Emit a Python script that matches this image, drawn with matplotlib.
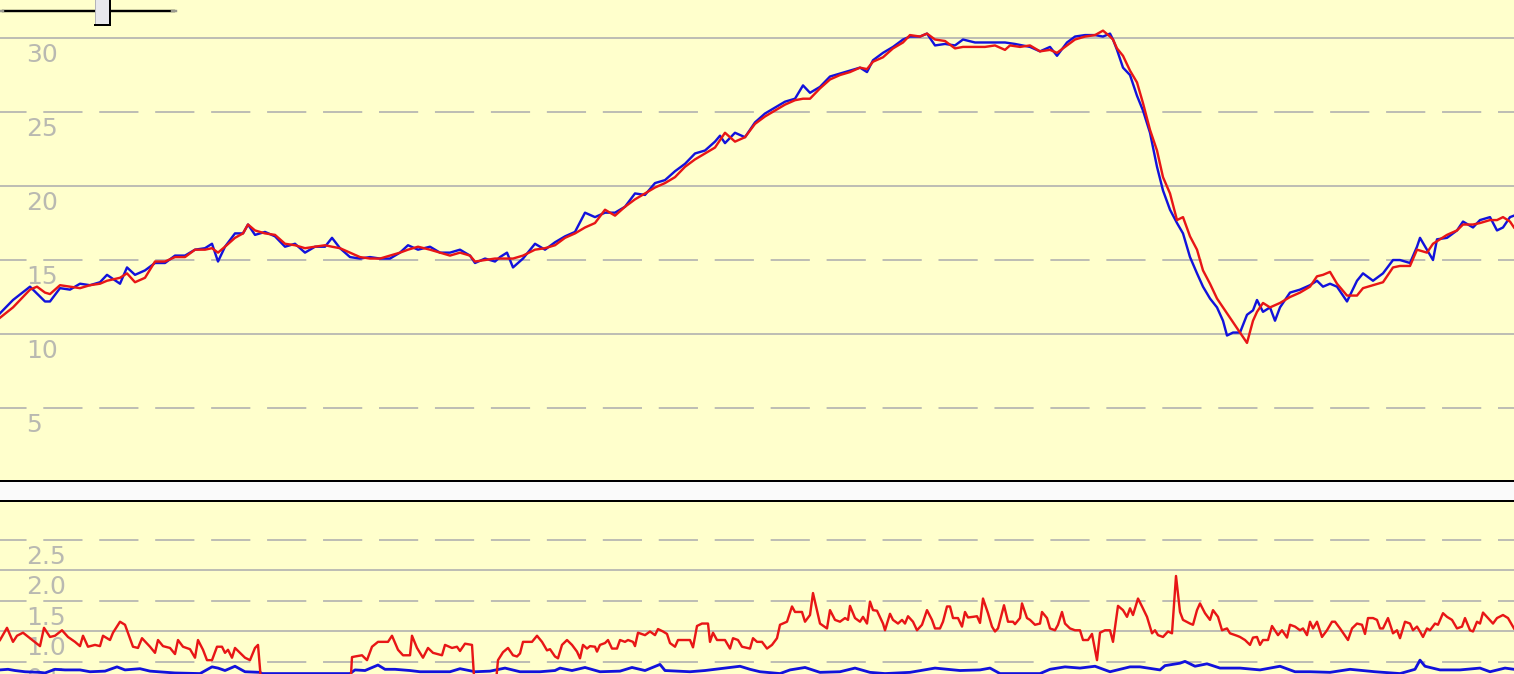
"""
Two stacked strip charts on a pale yellow ground: a level trace (blue raw,
red smoothed) on top and a small rate trace below, with a slider widget in
the top-left corner.
"""

import matplotlib
matplotlib.use("Agg")
import matplotlib.pyplot as plt
from matplotlib.lines import Line2D
from matplotlib.patches import Rectangle

# ---- data (t = sample position along the strip) ----
BLUE_T = [
    0, 13, 30, 45, 50, 60, 70, 80, 90, 100,
    107, 120, 127, 135, 145, 155, 165, 175, 185, 195,
    205, 212, 218, 225, 235, 243, 248, 255, 265, 275,
    285, 295, 305, 315, 325, 332, 340, 350, 360, 370,
    380, 390, 400, 408, 418, 430, 440, 450, 460, 470,
    475, 485, 495, 500, 507, 513, 523, 535, 545, 555,
    565, 575, 585, 595, 605, 615, 625, 635, 645, 655,
    665, 675, 685, 695, 705, 715, 720, 725, 735, 745,
    755, 765, 775, 785, 795, 803, 810, 820, 830, 840,
    850, 860, 867, 873, 883, 893, 903, 910, 920, 927,
    935, 945, 955, 963, 975, 985, 995, 1005, 1015, 1030,
    1040, 1050, 1057, 1067, 1075, 1085, 1095, 1103, 1110, 1113,
    1117, 1123, 1130, 1137, 1143, 1150, 1157, 1163, 1170, 1177,
    1183, 1190, 1197, 1203, 1210, 1217, 1223, 1227, 1233, 1240,
    1247, 1253, 1257, 1263, 1270, 1275, 1280, 1290, 1300, 1310,
    1317, 1323, 1330, 1337, 1347, 1357, 1363, 1373, 1383, 1393,
    1400, 1410, 1417, 1420, 1427, 1433, 1437, 1447, 1457, 1463,
    1473, 1480, 1490, 1497, 1503, 1510, 1514]
BLUE = [
    11.4, 12.3, 13.2, 12.2, 12.2, 13.1, 13.0, 13.4, 13.3, 13.5,
    14.0, 13.4, 14.5, 14.0, 14.3, 14.8, 14.8, 15.3, 15.3, 15.7,
    15.8, 16.1, 14.9, 15.9, 16.8, 16.8, 17.4, 16.7, 16.9, 16.6,
    15.9, 16.1, 15.5, 15.9, 15.9, 16.5, 15.8, 15.2, 15.1, 15.2,
    15.1, 15.1, 15.5, 16.0, 15.7, 15.9, 15.5, 15.5, 15.7, 15.3,
    14.8, 15.1, 14.9, 15.2, 15.5, 14.5, 15.1, 16.1, 15.7, 16.2,
    16.6, 16.9, 18.2, 17.9, 18.2, 18.2, 18.6, 19.5, 19.4, 20.2,
    20.4, 21.0, 21.5, 22.2, 22.4, 23.0, 23.4, 22.9, 23.6, 23.3,
    24.3, 24.9, 25.3, 25.7, 25.9, 26.8, 26.3, 26.7, 27.4, 27.6,
    27.8, 28.0, 27.7, 28.5, 29.0, 29.4, 29.9, 30.1, 30.1, 30.3,
    29.5, 29.6, 29.5, 29.9, 29.7, 29.7, 29.7, 29.7, 29.6, 29.4,
    29.1, 29.4, 28.8, 29.7, 30.1, 30.2, 30.2, 30.1, 30.3, 29.9,
    29.2, 28.0, 27.5, 26.1, 25.1, 23.6, 21.3, 19.7, 18.4, 17.5,
    16.8, 15.2, 14.1, 13.2, 12.4, 11.8, 10.9, 9.9, 10.1, 10.1,
    11.3, 11.6, 12.3, 11.5, 11.8, 10.9, 11.8, 12.8, 13.0, 13.3,
    13.6, 13.2, 13.4, 13.2, 12.2, 13.6, 14.1, 13.6, 14.1, 15.0,
    15.0, 14.8, 15.9, 16.5, 15.7, 15.0, 16.4, 16.5, 17.0, 17.6,
    17.2, 17.7, 17.9, 17.0, 17.2, 17.9, 18.0]

RED_T = [
    0, 13, 30, 37, 45, 50, 60, 70, 80, 90,
    100, 107, 120, 127, 135, 145, 155, 165, 175, 185,
    195, 205, 212, 218, 225, 235, 243, 248, 255, 265,
    275, 285, 295, 305, 315, 325, 332, 340, 350, 360,
    370, 380, 390, 400, 408, 418, 430, 440, 450, 460,
    470, 475, 485, 495, 505, 513, 523, 535, 545, 555,
    565, 575, 585, 595, 605, 615, 625, 635, 645, 655,
    665, 675, 685, 695, 705, 715, 720, 725, 735, 745,
    755, 765, 775, 785, 795, 803, 810, 820, 830, 840,
    850, 860, 867, 873, 883, 893, 903, 910, 920, 927,
    935, 945, 955, 963, 975, 985, 995, 1005, 1010, 1020,
    1030, 1040, 1050, 1057, 1067, 1075, 1085, 1095, 1103, 1110,
    1113, 1117, 1123, 1130, 1137, 1143, 1150, 1157, 1163, 1170,
    1177, 1183, 1190, 1197, 1203, 1210, 1217, 1223, 1227, 1233,
    1240, 1247, 1253, 1257, 1263, 1270, 1280, 1290, 1300, 1310,
    1317, 1323, 1330, 1337, 1347, 1357, 1363, 1373, 1383, 1393,
    1400, 1410, 1417, 1427, 1433, 1447, 1457, 1463, 1473, 1480,
    1490, 1497, 1503, 1510, 1514]
RED = [
    11.1, 11.8, 13.0, 13.2, 12.8, 12.7, 13.3, 13.2, 13.1, 13.3,
    13.4, 13.6, 13.8, 14.1, 13.5, 13.8, 14.9, 14.9, 15.2, 15.2,
    15.7, 15.7, 15.8, 15.5, 15.9, 16.5, 16.8, 17.4, 17.0, 16.8,
    16.7, 16.1, 16.0, 15.8, 15.9, 16.0, 15.9, 15.8, 15.5, 15.2,
    15.1, 15.1, 15.3, 15.5, 15.7, 15.9, 15.7, 15.5, 15.3, 15.5,
    15.3, 14.9, 15.0, 15.1, 15.1, 15.1, 15.3, 15.7, 15.8, 16.0,
    16.5, 16.8, 17.2, 17.5, 18.4, 18.0, 18.6, 19.1, 19.5, 19.9,
    20.2, 20.6, 21.3, 21.8, 22.2, 22.6, 23.1, 23.6, 23.0, 23.3,
    24.2, 24.7, 25.1, 25.5, 25.8, 25.9, 25.9, 26.6, 27.2, 27.5,
    27.7, 28.0, 27.9, 28.4, 28.7, 29.3, 29.7, 30.2, 30.1, 30.3,
    29.9, 29.8, 29.3, 29.4, 29.4, 29.4, 29.5, 29.2, 29.5, 29.4,
    29.5, 29.1, 29.2, 29.0, 29.5, 29.9, 30.1, 30.2, 30.5, 30.1,
    29.9, 29.3, 28.8, 27.8, 27.0, 25.6, 23.8, 22.4, 20.6, 19.5,
    17.7, 17.9, 16.6, 15.7, 14.3, 13.4, 12.4, 11.8, 11.4, 10.8,
    10.1, 9.4, 10.9, 11.5, 12.1, 11.8, 12.1, 12.5, 12.8, 13.2,
    13.9, 14.0, 14.2, 13.4, 12.6, 12.6, 13.1, 13.3, 13.5, 14.5,
    14.6, 14.6, 15.7, 15.5, 16.1, 16.7, 17.0, 17.4, 17.4, 17.5,
    17.7, 17.7, 17.9, 17.6, 17.2]

RED_B_T = [
    0, 7, 13, 17, 23, 30, 40, 44, 50, 55,
    62, 68, 75, 80, 83, 88, 95, 100, 103, 110,
    113, 120, 125, 133, 138, 142, 150, 155, 158, 163,
    170, 175, 178, 183, 190, 195, 198, 203, 207, 212,
    217, 222, 225, 228, 232, 235, 240, 245, 250, 255,
    258, 262, 350, 352, 355, 362, 367, 372, 378, 388,
    392, 398, 403, 410, 412, 417, 423, 428, 433, 442,
    445, 452, 457, 460, 465, 472, 475, 495, 498, 503,
    508, 513, 517, 520, 523, 532, 537, 542, 547, 550,
    555, 558, 562, 567, 572, 577, 580, 583, 587, 590,
    595, 597, 600, 605, 608, 612, 617, 620, 625, 628,
    633, 635, 638, 645, 650, 655, 658, 663, 667, 670,
    675, 678, 690, 693, 697, 702, 708, 710, 713, 717,
    725, 730, 733, 738, 742, 750, 753, 757, 762, 767,
    772, 777, 780, 787, 792, 795, 802, 805, 810, 813,
    820, 827, 830, 835, 840, 845, 848, 850, 855, 860,
    863, 867, 870, 873, 877, 883, 885, 890, 893, 898,
    902, 905, 908, 913, 917, 922, 927, 932, 935, 940,
    943, 947, 950, 953, 958, 962, 965, 968, 973, 977,
    980, 983, 988, 992, 995, 998, 1004, 1008, 1013, 1015,
    1020, 1022, 1027, 1030, 1035, 1040, 1042, 1047, 1050, 1055,
    1058, 1062, 1065, 1070, 1075, 1080, 1083, 1088, 1092, 1097,
    1100, 1105, 1110, 1113, 1118, 1123, 1127, 1130, 1133, 1138,
    1142, 1147, 1152, 1155, 1158, 1163, 1168, 1172, 1176, 1180,
    1183, 1190, 1193, 1197, 1200, 1205, 1210, 1213, 1218, 1222,
    1227, 1230, 1237, 1240, 1245, 1250, 1253, 1257, 1260, 1263,
    1268, 1272, 1278, 1282, 1287, 1290, 1295, 1300, 1303, 1307,
    1310, 1313, 1317, 1322, 1327, 1332, 1335, 1340, 1345, 1348,
    1352, 1357, 1362, 1365, 1368, 1373, 1377, 1380, 1383, 1388,
    1393, 1397, 1400, 1405, 1410, 1413, 1417, 1420, 1423, 1427,
    1430, 1435, 1438, 1443, 1447, 1452, 1457, 1462, 1465, 1470,
    1473, 1477, 1480, 1483, 1488, 1493, 1497, 1503, 1508, 1514]
RED_B = [
    0.86, 1.06, 0.83, 0.93, 0.98, 0.89, 0.76, 1.06, 0.91, 0.93,
    1.02, 0.91, 0.83, 0.76, 0.93, 0.75, 0.78, 0.76, 0.93, 0.86,
    0.98, 1.16, 1.11, 0.75, 0.73, 0.89, 0.75, 0.65, 0.86, 0.76,
    0.73, 0.63, 0.86, 0.75, 0.71, 0.57, 0.86, 0.70, 0.53, 0.53,
    0.75, 0.75, 0.65, 0.70, 0.57, 0.73, 0.65, 0.57, 0.53, 0.73,
    0.78, 0.0, 0.0, 0.58, 0.59, 0.61, 0.53, 0.75, 0.83, 0.83,
    0.93, 0.70, 0.61, 0.61, 0.93, 0.73, 0.57, 0.73, 0.65, 0.61,
    0.78, 0.73, 0.75, 0.68, 0.80, 0.78, 0.0, 0.0, 0.53, 0.66,
    0.73, 0.61, 0.59, 0.64, 0.83, 0.83, 0.93, 0.83, 0.69, 0.71,
    0.59, 0.56, 0.78, 0.86, 0.78, 0.67, 0.56, 0.78, 0.72, 0.76,
    0.75, 0.67, 0.78, 0.81, 0.86, 0.72, 0.72, 0.86, 0.83, 0.86,
    0.83, 0.76, 0.98, 0.94, 1.00, 0.94, 1.04, 1.00, 0.96, 0.81,
    0.75, 0.86, 0.86, 0.74, 1.09, 1.13, 1.13, 0.83, 0.98, 0.86,
    0.86, 0.72, 0.89, 0.86, 0.75, 0.72, 0.89, 0.83, 0.83, 0.72,
    0.78, 0.89, 1.11, 1.16, 1.41, 1.32, 1.32, 1.16, 1.27, 1.63,
    1.13, 1.05, 1.35, 1.19, 1.16, 1.22, 1.19, 1.42, 1.22, 1.16,
    1.24, 1.13, 1.49, 1.35, 1.34, 1.13, 1.02, 1.29, 1.19, 1.13,
    1.19, 1.13, 1.25, 1.16, 1.02, 1.11, 1.35, 1.19, 1.05, 1.05,
    1.16, 1.41, 1.41, 1.22, 1.22, 1.08, 1.32, 1.23, 1.24, 1.25,
    1.14, 1.54, 1.30, 1.08, 1.00, 1.05, 1.43, 1.16, 1.16, 1.12,
    1.22, 1.46, 1.22, 1.19, 1.11, 1.13, 1.32, 1.22, 1.05, 1.02,
    1.11, 1.32, 1.13, 1.05, 1.02, 1.02, 0.86, 0.86, 0.96, 0.53,
    0.98, 1.02, 1.02, 0.83, 1.42, 1.35, 1.24, 1.38, 1.27, 1.54,
    1.41, 1.24, 0.97, 1.02, 0.94, 0.91, 1.00, 0.97, 1.91, 1.32,
    1.19, 1.13, 1.11, 1.35, 1.46, 1.30, 1.19, 1.35, 1.24, 1.02,
    1.05, 0.97, 0.93, 0.91, 0.86, 0.78, 0.90, 0.91, 0.78, 0.86,
    0.86, 1.09, 0.94, 1.02, 0.90, 1.11, 1.08, 1.02, 1.05, 0.94,
    1.16, 1.05, 1.16, 0.91, 1.02, 1.16, 1.16, 1.05, 0.93, 0.86,
    1.05, 1.13, 1.11, 0.96, 1.22, 1.22, 1.19, 1.05, 1.05, 1.22,
    0.97, 1.02, 0.89, 1.16, 1.13, 1.02, 1.08, 1.00, 0.91, 1.05,
    1.02, 1.13, 1.11, 1.30, 1.24, 1.19, 1.05, 1.08, 1.22, 1.02,
    1.00, 1.16, 1.13, 1.31, 1.22, 1.13, 1.22, 1.27, 1.22, 1.05]

BLUE_B_T = [
    0, 8, 15, 25, 40, 45, 55, 65, 80, 90,
    105, 117, 125, 140, 150, 175, 200, 212, 218, 225,
    235, 245, 260, 262, 350, 355, 365, 378, 385, 395,
    410, 420, 450, 460, 475, 490, 505, 520, 540, 555,
    560, 572, 585, 600, 620, 632, 645, 660, 665, 690,
    705, 725, 730, 740, 750, 760, 780, 790, 805, 820,
    840, 855, 870, 885, 910, 935, 960, 980, 990, 1000,
    1040, 1050, 1065, 1080, 1095, 1110, 1130, 1140, 1160, 1165,
    1180, 1185, 1195, 1207, 1220, 1240, 1260, 1280, 1295, 1310,
    1330, 1350, 1375, 1400, 1415, 1420, 1425, 1440, 1460, 1480,
    1490, 1505, 1514]
BLUE_B = [
    0.37, 0.38, 0.36, 0.34, 0.33, 0.32, 0.38, 0.37, 0.37, 0.34,
    0.35, 0.42, 0.37, 0.39, 0.35, 0.32, 0.31, 0.42, 0.40, 0.36,
    0.43, 0.34, 0.33, 0.31, 0.31, 0.37, 0.36, 0.45, 0.38, 0.38,
    0.36, 0.34, 0.34, 0.39, 0.34, 0.35, 0.40, 0.34, 0.34, 0.36,
    0.40, 0.36, 0.41, 0.34, 0.35, 0.41, 0.36, 0.46, 0.36, 0.34,
    0.36, 0.40, 0.41, 0.43, 0.38, 0.34, 0.31, 0.37, 0.41, 0.33,
    0.34, 0.40, 0.33, 0.31, 0.33, 0.40, 0.36, 0.37, 0.40, 0.31,
    0.31, 0.38, 0.42, 0.40, 0.43, 0.34, 0.42, 0.42, 0.37, 0.44,
    0.48, 0.51, 0.43, 0.47, 0.40, 0.40, 0.37, 0.43, 0.34, 0.34,
    0.33, 0.38, 0.34, 0.31, 0.38, 0.53, 0.43, 0.37, 0.37, 0.40,
    0.34, 0.40, 0.38]

TOP_SOLID = [10, 20, 30]
TOP_DASHED = [5, 15, 25]
TOP_LABELS = [5, 10, 15, 20, 25, 30]
BOT_SOLID = [1.0, 2.0]
BOT_DASHED = [0.5, 1.5, 2.5]
BOT_LABELS = [0.5, 1.0, 1.5, 2.0, 2.5]

# ---- look ----
W, H = 1514, 674
BG = "#FFFFCC"
GAP = "#FAFAFA"
GRID = "#BEBEB4"
LABEL = "#B9B9B1"
C_BLUE = "#1212DC"
C_RED = "#E81616"
PT = 0.72                          # points per pixel at dpi 100
DASH = (12.65 * PT, (39.2 * PT, 16.75 * PT))
LW_DATA = 2.4 * PT


def style_panel(ax, ylim, solid, dashed, labels, fmt, spine):
    ax.set_facecolor(BG)
    ax.set_xlim(0, W)
    ax.set_ylim(*ylim)
    ax.set_xticks([])
    ax.set_yticks([])
    for name, sp in ax.spines.items():
        sp.set_visible(name == spine)
    ax.spines[spine].set_color("black")
    ax.spines[spine].set_linewidth(2 * PT)
    for v in solid:
        ax.axhline(v, color=GRID, lw=2 * PT, zorder=1)
    for v in dashed:
        ax.axhline(v, color=GRID, lw=2 * PT, ls=DASH, zorder=1)
    # value labels sit just under their grid line, as in the reference;
    # the lowest one is partly cut by the figure edge there too
    for v in labels:
        ax.annotate(fmt.format(v), xy=(26, v), xytext=(0, -24 * PT),
                    textcoords="offset points", ha="left", va="baseline",
                    fontsize=18, color=LABEL, zorder=2,
                    annotation_clip=False)


def main():
    plt.rcParams["lines.scale_dashes"] = False
    plt.rcParams["font.family"] = ["DejaVu Sans"]

    fig = plt.figure(figsize=(W / 100, H / 100), dpi=100)
    fig.patch.set_facecolor(GAP)

    top = fig.add_axes([0, 1 - 481 / H, 1, 481 / H])
    bot = fig.add_axes([0, 0, 1, (H - 501) / H])

    style_panel(top, (0.07, 32.57), TOP_SOLID, TOP_DASHED, TOP_LABELS,
                "{:d}", "bottom")
    style_panel(bot, (0.303, 3.139), BOT_SOLID, BOT_DASHED, BOT_LABELS,
                "{:.1f}", "top")

    top.plot(BLUE_T, BLUE, color=C_BLUE, lw=LW_DATA, zorder=3)
    top.plot(RED_T, RED, color=C_RED, lw=LW_DATA, zorder=4)
    bot.plot(BLUE_B_T, BLUE_B, color=C_BLUE, lw=2.8 * PT, zorder=3)
    bot.plot(RED_B_T, RED_B, color=C_RED, lw=LW_DATA, zorder=4)

    # slider widget in the corner
    def fx(px):
        return px / W

    def fy(py):
        return 1 - py / H

    fig.add_artist(Line2D([fx(3), fx(174)], [fy(11), fy(11)],
                          color="black", lw=2.4 * PT, zorder=10))
    for x0, x1 in [(0, 3), (172, 176)]:
        fig.add_artist(Line2D([fx(x0), fx(x1)], [fy(11), fy(11)],
                              color="#9A9A90", lw=2.4 * PT, zorder=10))
    fig.add_artist(Rectangle((fx(95), fy(25)), fx(110) - fx(95), fy(-2) - fy(25),
                             facecolor="#E8E8EC", edgecolor="#B4B4B8",
                             lw=1 * PT, zorder=11))
    fig.add_artist(Line2D([fx(109.5), fx(109.5), fx(95)],
                          [fy(0), fy(25), fy(25)],
                          color="black", lw=2 * PT, zorder=12,
                          solid_joinstyle="miter"))

    fig.savefig("out.png", dpi=100, facecolor=fig.get_facecolor())
    plt.close(fig)


if __name__ == "__main__":
    main()
